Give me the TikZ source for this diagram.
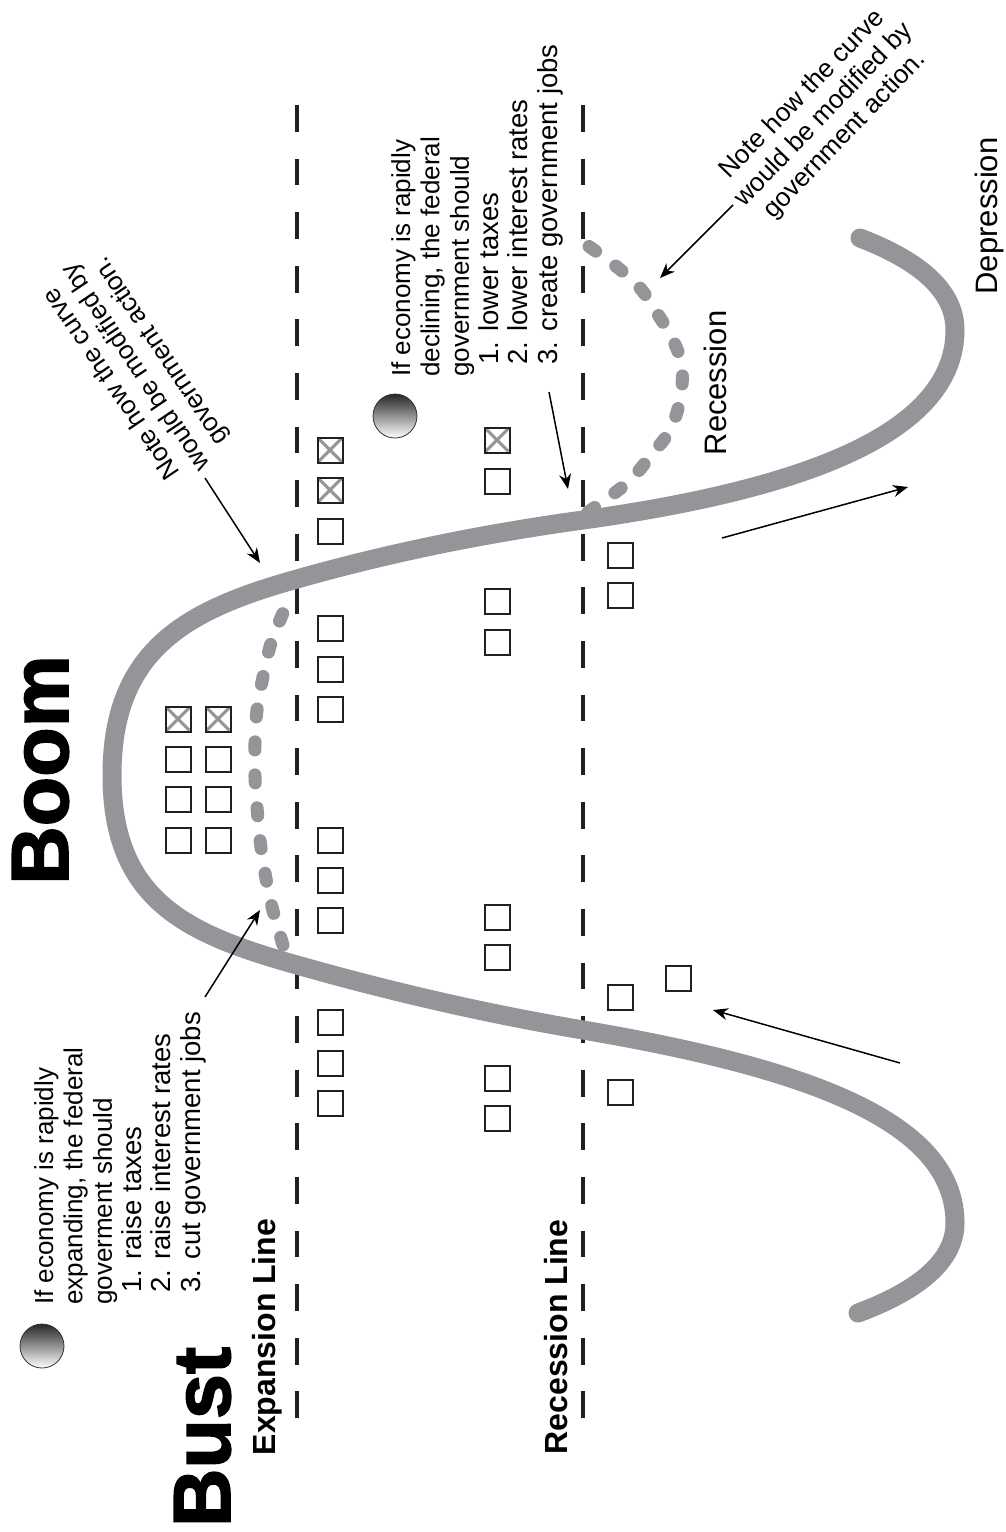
\documentclass[tikz,border=0pt]{standalone}
\usepackage{fontspec}
\setmainfont{Liberation Sans}
\newfontfamily\heavyfont{Liberation Sans}[BoldFeatures={FakeBold=2}]
\usetikzlibrary{arrows.meta}
\definecolor{curvegray}{HTML}{939598}
\definecolor{ink}{HTML}{231F20}
\begin{document}
\begin{tikzpicture}[x=1pt,y=-1pt,
  curve/.style={line width=19pt, draw=curvegray, line cap=round},
  gdash/.style={line width=13pt, draw=curvegray, line cap=round, dash pattern=on 8pt off 25pt},
  vdash/.style={line width=3.5pt, draw=ink, dash pattern=on 26.8pt off 26.8pt},
  cbox/.style={draw=ink, line width=2pt, minimum size=25pt, inner sep=0pt},
  xline/.style={draw=curvegray, line width=3pt, shorten <=1.5pt, shorten >=1.5pt},
  xbox/.style={cbox, path picture={
      \draw[xline] (path picture bounding box.north west) -- (path picture bounding box.south east);
      \draw[xline] (path picture bounding box.north east) -- (path picture bounding box.south west);}},
  arr/.style={line width=1.5pt, draw=black, -{Stealth[length=15pt, width=12pt]}},
  bullet/.style={circle, draw=black!80, line width=0.8pt, minimum size=44pt, inner sep=0pt, top color=black!85, bottom color=white},
  head/.style={inner sep=0pt, anchor=base, rotate=90, font=\heavyfont\bfseries\fontsize{81}{81}\selectfont},
  linelbl/.style={inner sep=0pt, anchor=base, rotate=90, font=\bfseries\fontsize{32}{32}\selectfont},
  phase/.style={inner sep=0pt, anchor=base, rotate=90, font=\fontsize{31}{31}\selectfont},
  sidetxt/.style={inner sep=0pt, anchor=base west, rotate=90, font=\fontsize{26}{29.4}\selectfont},
  itemtxt/.style={inner sep=0pt, anchor=base west, rotate=90, font=\fontsize{27.5}{29.4}\selectfont},
  notetxt/.style={inner sep=0pt, align=center, font=\fontsize{26}{29.4}\selectfont}
]
\fill[white] (0,0) rectangle (1005,1532);
\useasboundingbox (0,0) rectangle (1005,1532);

% dashed reference lines
\coordinate (eTop) at (297,105);
\coordinate (eBot) at (297,1418);
\coordinate (rTop) at (583,105);
\coordinate (rBot) at (583,1418);
\draw[vdash] (eTop) -- (eBot);
\draw[vdash] (rTop) -- (rBot);

% business cycle curve
\coordinate (cStart) at (858,1313);
\coordinate (cR1) at (955,1223);
\coordinate (cX1) at (583,1030);
\coordinate (cE1) at (297,965);
\coordinate (cL) at (112,775);
\coordinate (cE2) at (297,579);
\coordinate (cX2) at (583,520);
\coordinate (cR2) at (955,330);
\coordinate (cEnd) at (860,238);
\draw[curve] (cStart) .. controls (920,1290) and (955,1260) .. (cR1)
  .. controls (955,1123) and (813,1069) .. (cX1)
  .. controls (488,1014) and (392,992) .. (cE1)
  .. controls (186,934) and (112,900) .. (cL)
  .. controls (112,650) and (186,610) .. (cE2)
  .. controls (392,552) and (488,533) .. (cX2)
  .. controls (813,488) and (955,430) .. (cR2)
  .. controls (955,291) and (920,261) .. (cEnd);

% modified curves (dashed gray)
\draw[gdash] plot[smooth, tension=0.6] coordinates {
  (283,945) (272,907) (265,873) (260,840) (257,807) (255,777) (255,743)
  (257,710) (263,677) (272,640) (288,602)};
\draw[gdash] plot[smooth, tension=0.6] coordinates {
  (588,512) (627,483) (653,453) (670,430) (680,400) (682,367) (673,340)
  (657,313) (640,288) (617,267) (580,240)};

% headings
\node[head] (boom) at (68,770) {Boom};
\node[head] (bust) at (230,1437) {Bust};
\node[linelbl] (expl) at (275,1337) {Expansion Line};
\node[linelbl] (recl) at (567,1337) {Recession Line};
\node[phase] (depr) at (997,216) {Depression};
\node[phase] (rece) at (726,383) {Recession};

% bullets
\node[bullet] (bulA) at (42,1346) {};
\node[bullet] (bulB) at (395,416) {};

% left text block
\node[sidetxt] (la1) at (53,1305) {If economy is rapidly};
\node[sidetxt] (la2) at (82.4,1305) {expanding, the federal};
\node[sidetxt] (la3) at (111.8,1305) {goverment should};
\node[itemtxt] (la4) at (141.2,1293) {1. raise taxes};
\node[itemtxt] (la5) at (170.6,1293) {2. raise interest rates};
\node[itemtxt] (la6) at (200,1293) {3. cut government jobs};

% right text block
\node[sidetxt] (ra1) at (410,377) {If economy is rapidly};
\node[sidetxt] (ra2) at (439.4,377) {declining, the federal};
\node[sidetxt] (ra3) at (468.8,377) {government should};
\node[itemtxt] (ra4) at (498.2,365) {1. lower taxes};
\node[itemtxt] (ra5) at (527.6,365) {2. lower interest rates};
\node[itemtxt] (ra6) at (557,365) {3. create government jobs};

% notes
\node[notetxt, rotate=124] (noteL) at (137,367) {Note how the curve\\would be modified by\\government action.};
\node[notetxt, rotate=46] (noteR) at (824,115) {Note how the curve\\would be modified by\\government action.};

% arrows
\coordinate (a1s) at (205,478);  \coordinate (a1e) at (260,563);
\coordinate (a2s) at (205,997);  \coordinate (a2e) at (260,910);
\coordinate (a3s) at (549,392);  \coordinate (a3e) at (568,489);
\coordinate (a4s) at (733,205);  \coordinate (a4e) at (660,278);
\coordinate (a5s) at (722,538);  \coordinate (a5e) at (908,487);
\coordinate (a6s) at (900,1063); \coordinate (a6e) at (713,1010);
\draw[arr] (a1s) -- (a1e);
\draw[arr] (a2s) -- (a2e);
\draw[arr] (a3s) -- (a3e);
\draw[arr] (a4s) -- (a4e);
\draw[arr] (a5s) -- (a5e);
\draw[arr] (a6s) -- (a6e);

% check boxes
\foreach \cx/\cy/\nm in {178/719/a1, 218/719/a2, 330/450/c1, 330/490/c2, 497/440/d1}
  \node[xbox] (x\nm) at (\cx,\cy) {};
\foreach \cx/\cy/\nm in {178/759/a3, 178/799/a4, 178/840/a5,
  218/759/a6, 218/799/a7, 218/840/a8,
  330/531/c3, 330/628/c4, 330/669/c5, 330/709/c6, 330/840/c7, 330/880/c8,
  330/920/c9, 330/1022/c10, 330/1063/c11, 330/1103/c12,
  497/481/d2, 497/601/d3, 497/642/d4, 497/917/d5, 497/957/d6, 497/1078/d7, 497/1118/d8,
  620/555/e1, 620/595/e2, 620/997/e3, 620/1092/e4, 678/978/f1}
  \node[cbox] (b\nm) at (\cx,\cy) {};
\end{tikzpicture}
\end{document}
